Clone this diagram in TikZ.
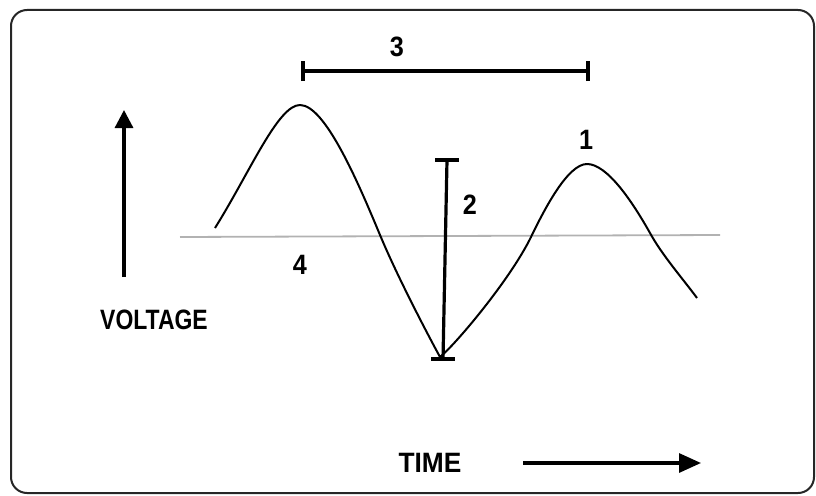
\documentclass[tikz,border=0pt]{standalone}
\usepackage{fontspec}
\setmainfont{Liberation Sans}
\usetikzlibrary{arrows.meta}
\begin{document}
\begin{tikzpicture}[
    x=1pt, y=-1pt,
    font=\fontsize{28}{32}\selectfont\bfseries,
    frame/.style={draw=black!85, line width=2pt, rounded corners=16pt},
    wave/.style={draw=black, line width=2pt, line join=round},
    zeroline/.style={draw=black!30, line width=1.8pt},
    axisarrow/.style={draw=black, line width=3.2pt},
    span/.style={draw=black, line width=3.2pt},
    lbl/.style={inner sep=0pt},
    num/.style={inner sep=0pt, font=\fontsize{28}{32}\selectfont\bfseries}
  ]
  \useasboundingbox (0,0) rectangle (816,495);
  \draw[frame] (11,10) rectangle (814,493);

  % reference line
  \coordinate (zl) at (180,237);
  \coordinate (zr) at (720,235);
  \draw[zeroline] (zl) -- (zr);

  % signal
  \draw[wave] (215,228)
    .. controls (250,172) and (278,105) .. (300,105)
    .. controls (325,105) and (358,182) .. (380,235)
    .. controls (398,278) and (428,335) .. (440,357)
    .. controls (455,345) and (510,280) .. (531,237)
    .. controls (545,208) and (568,164) .. (587,164)
    .. controls (607,164) and (632,201) .. (650,233)
    .. controls (662,255) and (683,279) .. (697,298);

  % amplitude
  \coordinate (ptop) at (447,160);
  \coordinate (pbot) at (443,359);
  \draw[span] (ptop) -- (pbot);
  \draw[span] ([xshift=-12]ptop) -- ([xshift=12]ptop);
  \draw[span] ([xshift=-12]pbot) -- ([xshift=12]pbot);

  % period
  \coordinate (pl) at (303,71);
  \coordinate (pr) at (588,71);
  \draw[span] (pl) -- (pr);
  \draw[span] ([yshift=-10]pl) -- ([yshift=10]pl);
  \draw[span] ([yshift=-10]pr) -- ([yshift=10]pr);

  % axes
  \coordinate (vbot) at (124,277);
  \coordinate (vtop) at (124,110);
  \draw[axisarrow, -{Triangle[width=18pt,length=18pt]}] (vbot) -- (vtop);
  \coordinate (tl) at (523,463);
  \coordinate (tr) at (701,463);
  \draw[axisarrow, -{Triangle[width=19pt,length=22pt]}] (tl) -- (tr);

  \node[lbl] (volt) at (154,320) {\scalebox{0.82}[1]{VOLTAGE}};
  \node[lbl] (time) at (430,463) {\scalebox{0.94}[1]{TIME}};
  \node[num] (one) at (586,140) {\scalebox{0.9}[1]{1}};
  \node[num] (two) at (470,205) {\scalebox{0.9}[1]{2}};
  \node[num] (three) at (397,47) {\scalebox{0.9}[1]{3}};
  \node[num] (four) at (300,265) {\scalebox{0.9}[1]{4}};
\end{tikzpicture}
\end{document}
